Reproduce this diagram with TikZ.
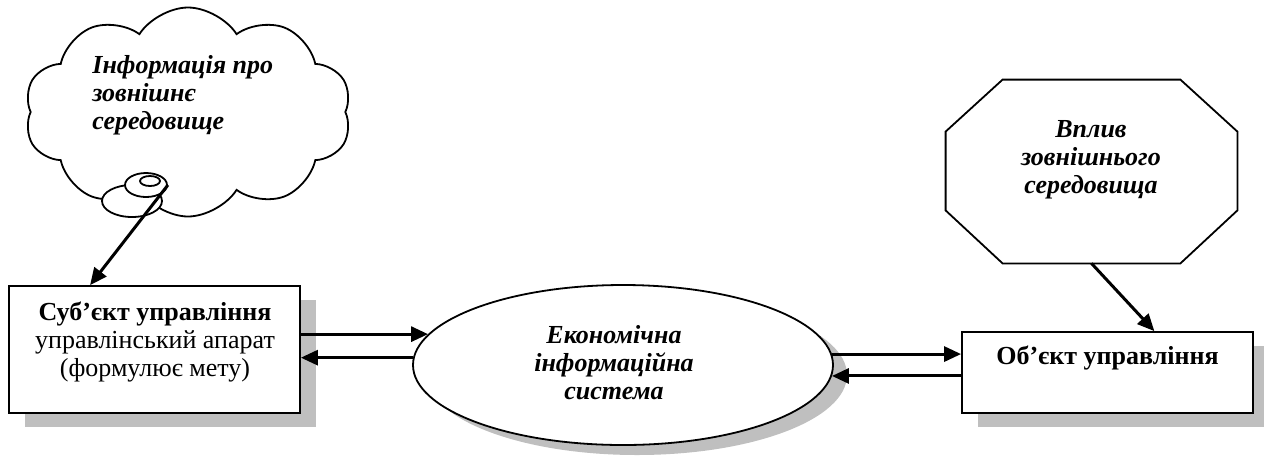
\documentclass[tikz,border=0pt]{standalone}
\usepackage{fontspec}
\setmainfont{Liberation Serif}
\usepackage{tikz}
\usetikzlibrary{arrows.meta}
\usetikzlibrary{shapes.geometric}
\usetikzlibrary{shapes.symbols}
\usetikzlibrary{shadows}
\usetikzlibrary{calc}

\begin{document}
\begin{tikzpicture}[x=0.5pt,y=-0.5pt,
  every node/.style={font=\fontsize{13}{14}\selectfont},
  lbl/.style={font=\fontsize{13}{14}\selectfont\bfseries\itshape},
  outline/.style={draw,line width=0.9pt},
  boxshadow/.style={drop shadow={shadow xshift=8pt,shadow yshift=-7pt,fill=black!25,opacity=1}},
  flow/.style={line width=1.5pt,-{Triangle[length=8.5pt,width=7.5pt]}}]
  \useasboundingbox (0,0) rectangle (1264,457);

  % Cloud with bubbles
  \node[cloud,outline,cloud puffs=10,cloud puff arc=115,aspect=1.6,
        minimum width=163.5pt,minimum height=104.5pt] (info) at (188,112) {};
  \node[ellipse,outline,fill=white,inner sep=0pt,minimum width=30pt,minimum height=16pt] (bub1) at (132,201) {};
  \node[ellipse,outline,fill=white,inner sep=0pt,minimum width=21pt,minimum height=12pt] (bub2) at (146,185) {};
  \node[ellipse,outline,inner sep=0pt,minimum width=10pt,minimum height=5pt] (bub3) at (150,181) {};
  \node[lbl,anchor=west,align=left,inner sep=0pt] (infotext) at (92,95) {Інформація про\\зовнішнє\\середовище};

  % Octagon
  \node[minimum width=145.5pt,minimum height=91.5pt] (vplyv) at (1091.5,171.5) {};
  \draw[outline] ($(vplyv.north west)+(57,0)$) -- ($(vplyv.north east)+(-57,0)$)
    -- ($(vplyv.north east)+(0,52)$) -- ($(vplyv.south east)+(0,-53)$)
    -- ($(vplyv.south east)+(-57,0)$) -- ($(vplyv.south west)+(57,0)$)
    -- ($(vplyv.south west)+(0,-53)$) -- ($(vplyv.north west)+(0,52)$) -- cycle;
  \node[lbl,align=center] (vplyvtext) at (1091,160) {Вплив\\зовнішнього\\середовища};

  % Boxes
  \node[outline,fill=white,minimum width=145.5pt,minimum height=63.5pt,boxshadow] (subj) at (154.5,349.5) {};
  \node[align=center] (subjtext) at (155,341.5) {\textbf{Суб’єкт управління}\\управлінський апарат\\(формулює мету)};
  \node[outline,fill=white,minimum width=145.5pt,minimum height=40.5pt,boxshadow] (obj) at (1107.5,372.5) {};
  \node[font=\fontsize{13}{14}\selectfont\bfseries] (objtext) at (1107.5,358) {Об’єкт управління};

  % Ellipse
  \node[ellipse,outline,fill=white,minimum width=210pt,minimum height=80pt,
        drop shadow={shadow xshift=7pt,shadow yshift=-5pt,fill=black!25,opacity=1}] (eis) at (623,365) {};
  \node[lbl,align=center] (eistext) at (614,363) {Економічна\\інформаційна\\система};

  % Flows
  \draw[flow] (subj.east |- eis.171) -- (eis.171);
  \draw[flow] (eis.178) -- (subj.east |- eis.178);
  \draw[flow] (eis.3) -- (obj.west |- eis.3);
  \draw[flow] (obj.west |- eis.357) -- (eis.357);
  \draw[flow] (vplyv.south) -- ($(obj.north west)!.66!(obj.north east)$);
  \draw[flow] (bub2.east) -- ($(subj.north west)!.28!(subj.north east)$);
\end{tikzpicture}
\end{document}
